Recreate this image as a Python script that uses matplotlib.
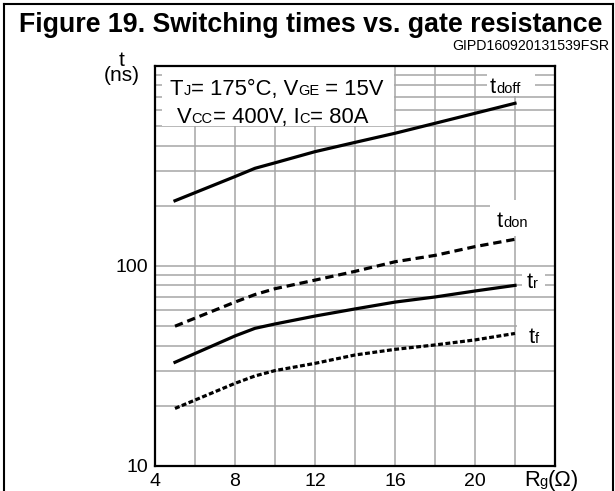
import numpy as np
import matplotlib.pyplot as plt
from matplotlib.lines import Line2D
from matplotlib.patches import Rectangle
from matplotlib.ticker import LogLocator, MultipleLocator, NullFormatter

plt.rcParams['font.family'] = ['Liberation Sans', 'DejaVu Sans']
plt.rcParams['lines.scale_dashes'] = False

# data (Rg in ohm, times in ns)
rg = [5, 8, 9, 10, 12, 14, 16, 18, 20, 22]
t_doff = [212, 280, 308, 328, 373, 415, 461, 517, 580, 651]
t_don = [50, 66, 72, 77, 85, 94, 105, 113, 125, 136]
t_r = [33, 44.7, 48.8, 51.3, 56.2, 61, 66, 70, 75, 80]
t_f = [19.4, 25.9, 28.2, 30, 32.6, 35.9, 38.3, 40.3, 42.7, 46]

x_ticks = [4, 8, 12, 16, 20]
y_ticks = [10, 100]

W, H = 615, 491
fig = plt.figure(figsize=(W / 100, H / 100), dpi=100)
ax = fig.add_axes([155 / W, 25 / H, 400 / W, 400 / H])

ax.set_yscale('log')
ax.set_xlim(4, 24)
ax.set_ylim(10, 1000)
ax.set_xticks(x_ticks)
ax.set_xticklabels([str(v) for v in x_ticks])
ax.xaxis.set_minor_locator(MultipleLocator(2))
ax.set_yticks(y_ticks)
ax.set_yticklabels([str(v) for v in y_ticks])
ax.yaxis.set_minor_locator(LogLocator(base=10, subs=np.arange(2, 10)))
ax.yaxis.set_minor_formatter(NullFormatter())
ax.tick_params(which='both', length=0, labelsize=14, pad=5)
ax.set_axisbelow(True)
ax.grid(True, which='both', color='#a6a6a6', lw=1.1, zorder=0.5)
for s in ax.spines.values():
    s.set_linewidth(1.6)
    s.set_zorder(6)

ax.plot(rg, t_doff, color='black', lw=2.3, zorder=3)
ax.plot(rg, t_don, color='black', lw=2.3, dashes=(6, 3.5), zorder=3)
ax.plot(rg, t_r, color='black', lw=2.3, zorder=3)
ax.plot(rg, t_f, color='black', lw=2.3, dashes=(3.5, 1.8), zorder=3)


def white_box(x0, y0, x1, y1):
    ax.add_patch(Rectangle((x0, y0), x1 - x0, y1 - y0, transform=ax.transAxes,
                           fc='white', ec='none', zorder=1))


def put_text(x, y, parts, coords):
    # pieces drawn one after another on one baseline, small ones as subscripts
    prev = ax.annotate(parts[0][0], xy=(x, y), xycoords=coords, va='baseline',
                       fontsize=parts[0][1], zorder=7, annotation_clip=False)
    for s, fs in parts[1:]:
        prev = ax.annotate(s, xy=(1, y), xycoords=(prev, coords), va='baseline',
                           fontsize=fs, zorder=7, annotation_clip=False)


big, small = 15.8, 10.5

white_box(0.0175, 0.85, 0.5975, 1.0)
put_text(0.0375, 0.9275, [('T', big), ('J', small), ('= 175°C, V', big),
                          ('GE', small), (' = 15V', big)], 'axes fraction')
put_text(0.055, 0.8575, [('V', big), ('CC', small), ('= 400V, I', big),
                         ('C', small), ('= 80A', big)], 'axes fraction')

white_box(0.83, 0.925, 0.95, 1.0)
put_text(0.8375, 0.9325, [('t', big), ('doff', small)], 'axes fraction')
white_box(0.8375, 0.575, 1.0, 0.665)
put_text(0.855, 0.5975, [('t', big), ('don', small)], 'axes fraction')
white_box(0.9175, 0.4375, 0.975, 0.49)
put_text(0.93, 0.445, [('t', big), ('r', small)], 'axes fraction')
white_box(0.905, 0.3025, 1.0, 0.36)
put_text(0.935, 0.3075, [('t', big), ('f', small)], 'axes fraction')

put_text(524 / W, 5 / H, [('R', big), ('g', small), ('(Ω)', big)], 'figure fraction')

fig.text(122 / W, 1 - 81 / H, 't\n(ns)', fontsize=15, ha='center', va='baseline',
         multialignment='center', linespacing=0.75)

fig.text(311 / W, 1 - 32 / H, 'Figure 19. Switching times vs. gate resistance',
         fontsize=19.3, fontweight='bold', ha='center', va='baseline')
fig.text(609 / W, 1 - 50 / H, 'GIPD160920131539FSR', fontsize=10.2,
         ha='right', va='baseline')

# outer frame
fl = 4 / W
fr = 613 / W
ft = 1 - 4 / H
for xs, ys in [([fl, fl], [0, ft]), ([fl, fr], [ft, ft]), ([fr, fr], [ft, 0])]:
    fig.add_artist(Line2D(xs, ys, transform=fig.transFigure, color='black', lw=1.5))

fig.savefig('out.png', dpi=100)
